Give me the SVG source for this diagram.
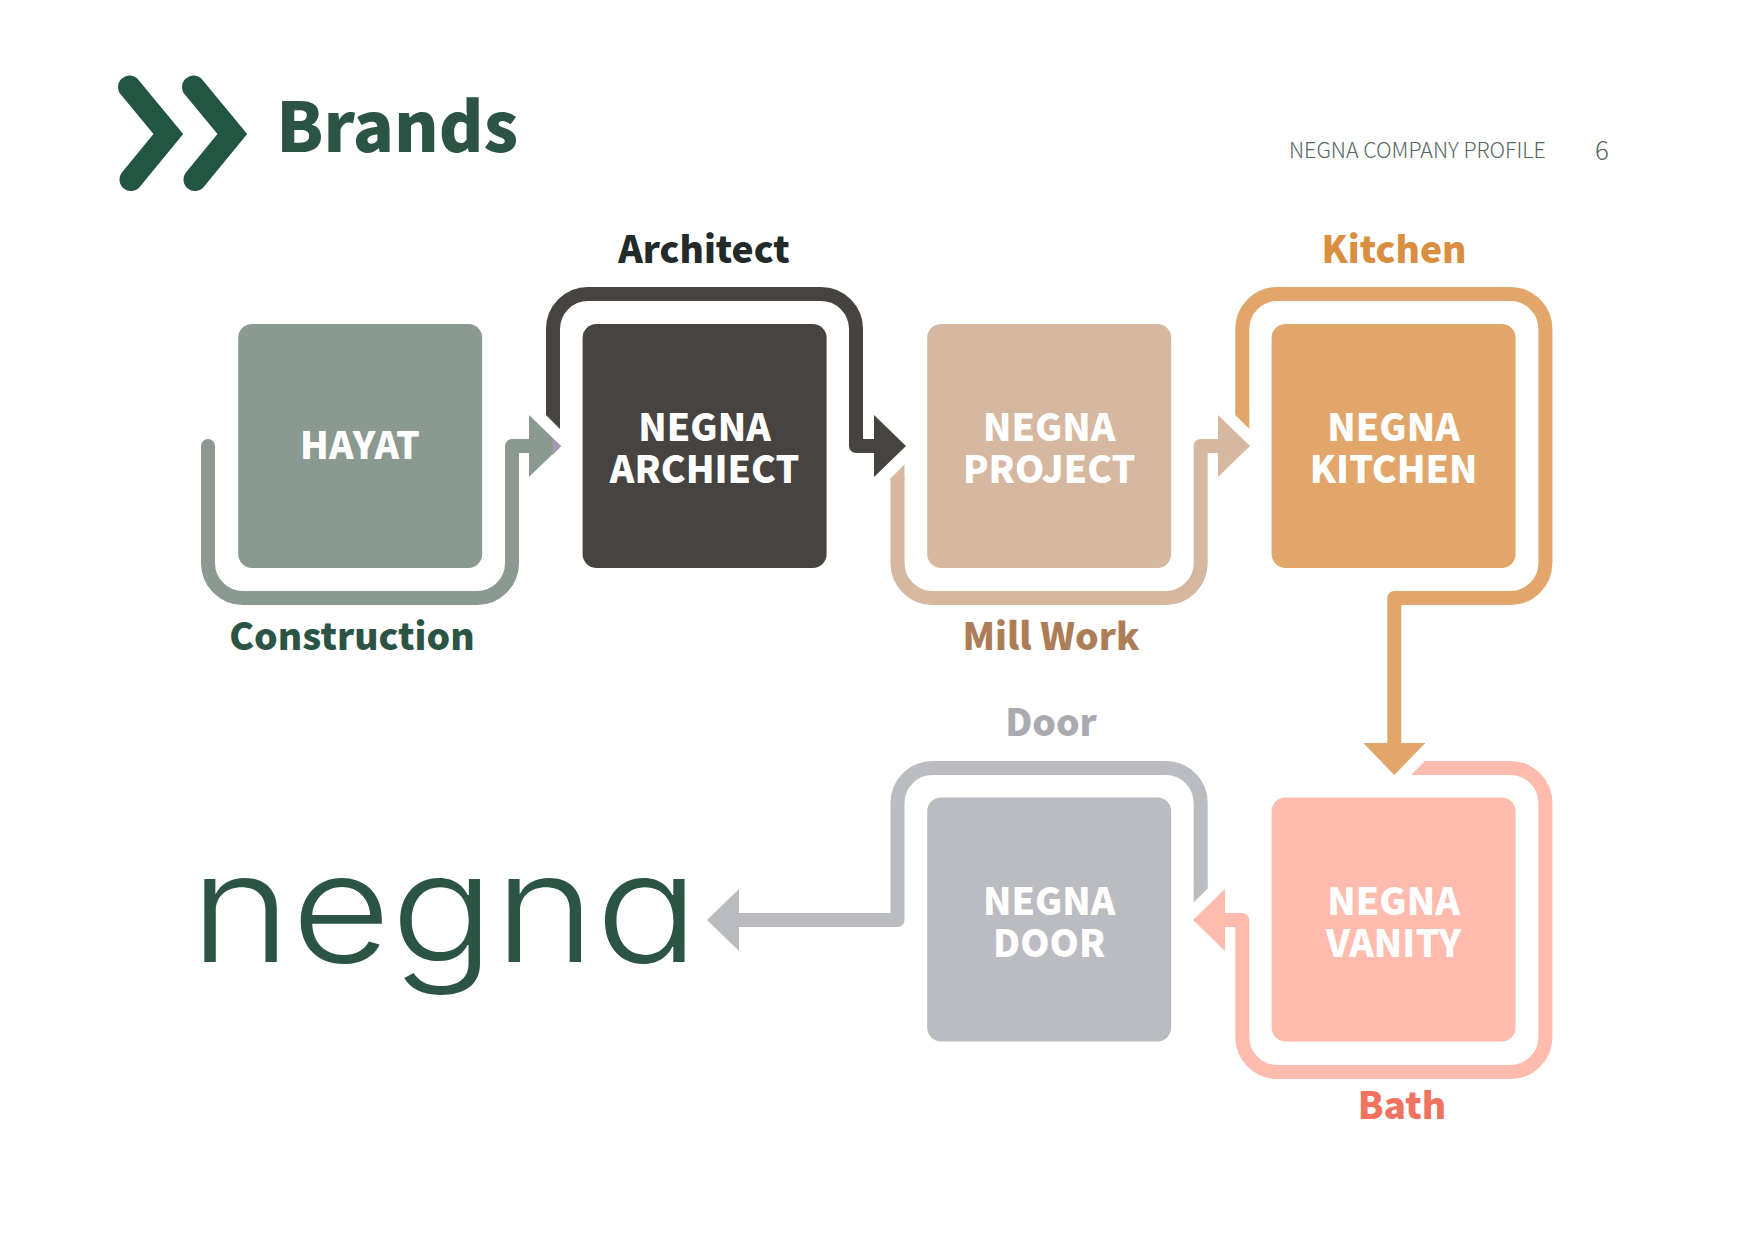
<svg xmlns="http://www.w3.org/2000/svg" width="1754" height="1241" viewBox="0 0 1754 1241">
<style>
text{font-family:"Noto Sans CJK KR","Noto Sans CJK JP","Noto Sans",sans-serif}
.box{stroke:none}
.name{font-size:37.3px;font-weight:900;fill:#fff;text-anchor:middle}
.tag{font-size:37.2px;font-weight:900;text-anchor:middle}
.c{fill:none;stroke-width:14;stroke-linejoin:round}
.chev{fill:none;stroke:#225642;stroke-width:23;stroke-linecap:round;stroke-linejoin:miter}
.hdr{fill:#54665e;font-weight:300}
</style>
<defs>
<marker id="aSage" markerUnits="userSpaceOnUse" markerWidth="33" markerHeight="62" refX="0" refY="31" orient="auto"><path d="M0 0L32 31L0 62Z" fill="#8a9a91"/></marker>
<marker id="aDark" markerUnits="userSpaceOnUse" markerWidth="33" markerHeight="62" refX="0" refY="31" orient="auto"><path d="M0 0L32 31L0 62Z" fill="#474340"/></marker>
<marker id="aTan" markerUnits="userSpaceOnUse" markerWidth="33" markerHeight="62" refX="0" refY="31" orient="auto"><path d="M0 0L32 31L0 62Z" fill="#d6b7a0"/></marker>
<marker id="aOrange" markerUnits="userSpaceOnUse" markerWidth="33" markerHeight="62" refX="0" refY="31" orient="auto"><path d="M0 0L32 31L0 62Z" fill="#e2a66a"/></marker>
<marker id="aPink" markerUnits="userSpaceOnUse" markerWidth="33" markerHeight="62" refX="0" refY="31" orient="auto"><path d="M0 0L32 31L0 62Z" fill="#ffbbad"/></marker>
<marker id="aGrey" markerUnits="userSpaceOnUse" markerWidth="33" markerHeight="62" refX="0" refY="31" orient="auto"><path d="M0 0L32 31L0 62Z" fill="#bbbcc1"/></marker>
</defs>
<rect width="1754" height="1241" fill="#fff"/>
<g id="header">
<path class="chev" d="M129.5 87L168.3 134L131 179.5"/>
<path class="chev" d="M193.5 87L232.3 134L195 179.5"/>
<text x="276.3" y="151.7" font-size="68" font-weight="900" fill="#2b5444">Brands</text>
<text class="hdr" x="1289" y="158" font-size="21.4">NEGNA COMPANY PROFILE</text>
<text class="hdr" x="1595" y="160" font-size="26">6</text>
</g>
<g id="connectors">
<g id="c-hayat"><path class="c" stroke="#8a9a91" stroke-linecap="round" marker-end="url(#aSage)" d="M208 446V563a35 35 0 0 0 35 35H477a35 35 0 0 0 35-35V446H529"/>
<polygon points="552.5,438 561,446.5 552.5,455" fill="#a298b4"/></g>
<g id="c-architect" fill="#474340"><polygon points="546,415 560,429 560,410 546,410"/>
<path class="c" stroke="#474340" marker-end="url(#aDark)" d="M553 412V329a35 35 0 0 1 35-35H821a35 35 0 0 1 35 35V446H874"/></g>
<g id="c-project" fill="#d6b7a0"><polygon points="890.5,478.5 904.5,464.5 904.5,480 890.5,480"/>
<path class="c" stroke="#d6b7a0" marker-end="url(#aTan)" d="M897.5 478V563a35 35 0 0 0 35 35H1165.7a35 35 0 0 0 35-35V446H1218"/></g>
<g id="c-kitchen" fill="#e2a66a"><polygon points="1235.3,415 1249.3,429 1249.3,410 1235.3,410"/>
<path class="c" stroke="#e2a66a" marker-end="url(#aOrange)" d="M1242.3 412V329a35 35 0 0 1 35-35H1510.4a35 35 0 0 1 35 35V563a35 35 0 0 1-35 35H1394.3V743"/></g>
<g id="c-vanity" fill="#ffbbad"><polygon points="1425,761 1411,775 1432,775 1432,761"/>
<path class="c" stroke="#ffbbad" marker-end="url(#aPink)" d="M1430 768H1510.4a35 35 0 0 1 35 35V1037a35 35 0 0 1-35 35H1277.3a35 35 0 0 1-35-35V920H1225"/></g>
<g id="c-door" fill="#bbbcc1"><polygon points="1193.7,902.5 1207.7,888.5 1207.7,885 1193.7,885"/>
<path class="c" stroke="#bbbcc1" marker-end="url(#aGrey)" d="M1200.7 887V803a35 35 0 0 0-35-35H932.5a35 35 0 0 0-35 35V920H739"/></g>
</g>
<g id="node-hayat"><rect class="box" x="238.2" y="324" width="244" height="244" rx="14" fill="#8a9a91"/>
<text class="name" x="360" y="459">HAYAT</text>
<text class="tag" x="352" y="650" fill="#2b5444">Construction</text></g>
<g id="node-architect"><rect class="box" x="582.6" y="324" width="244" height="244" rx="14" fill="#474340"/>
<text class="name" x="704.6" y="441">NEGNA</text><text class="name" x="704.6" y="483">ARCHIECT</text>
<text class="tag" x="704" y="262.7" fill="#222a2a">Architect</text></g>
<g id="node-project"><rect class="box" x="927.2" y="324" width="244" height="244" rx="14" fill="#d6b7a0"/>
<text class="name" x="1049.2" y="441">NEGNA</text><text class="name" x="1049.2" y="483">PROJECT</text>
<text class="tag" x="1051" y="650" fill="#ac7d57">Mill Work</text></g>
<g id="node-kitchen"><rect class="box" x="1271.6" y="324" width="244" height="244" rx="14" fill="#e2a66a"/>
<text class="name" x="1393.6" y="441">NEGNA</text><text class="name" x="1393.6" y="483">KITCHEN</text>
<text class="tag" x="1394" y="262.7" fill="#d98e40">Kitchen</text></g>
<g id="node-vanity"><rect class="box" x="1271.6" y="797.5" width="244" height="244" rx="14" fill="#ffbbad"/>
<text class="name" x="1393.6" y="914.5">NEGNA</text><text class="name" x="1393.6" y="956.5">VANITY</text>
<text class="tag" x="1402" y="1119" fill="#f1735f">Bath</text></g>
<g id="node-door"><rect class="box" x="927.2" y="797.5" width="244" height="244" rx="14" fill="#bbbcc1"/>
<text class="name" x="1049.2" y="914.5">NEGNA</text><text class="name" x="1049.2" y="956.5">DOOR</text>
<text class="tag" x="1051" y="736" fill="#a9abb1">Door</text></g>
<g id="node-negna"><text x="190" y="962" textLength="509" lengthAdjust="spacingAndGlyphs" font-size="152" font-weight="300" fill="#2b5444" style="font-family:Inter,'Noto Sans',sans-serif;font-feature-settings:'cv11'">negna</text></g>
</svg>
